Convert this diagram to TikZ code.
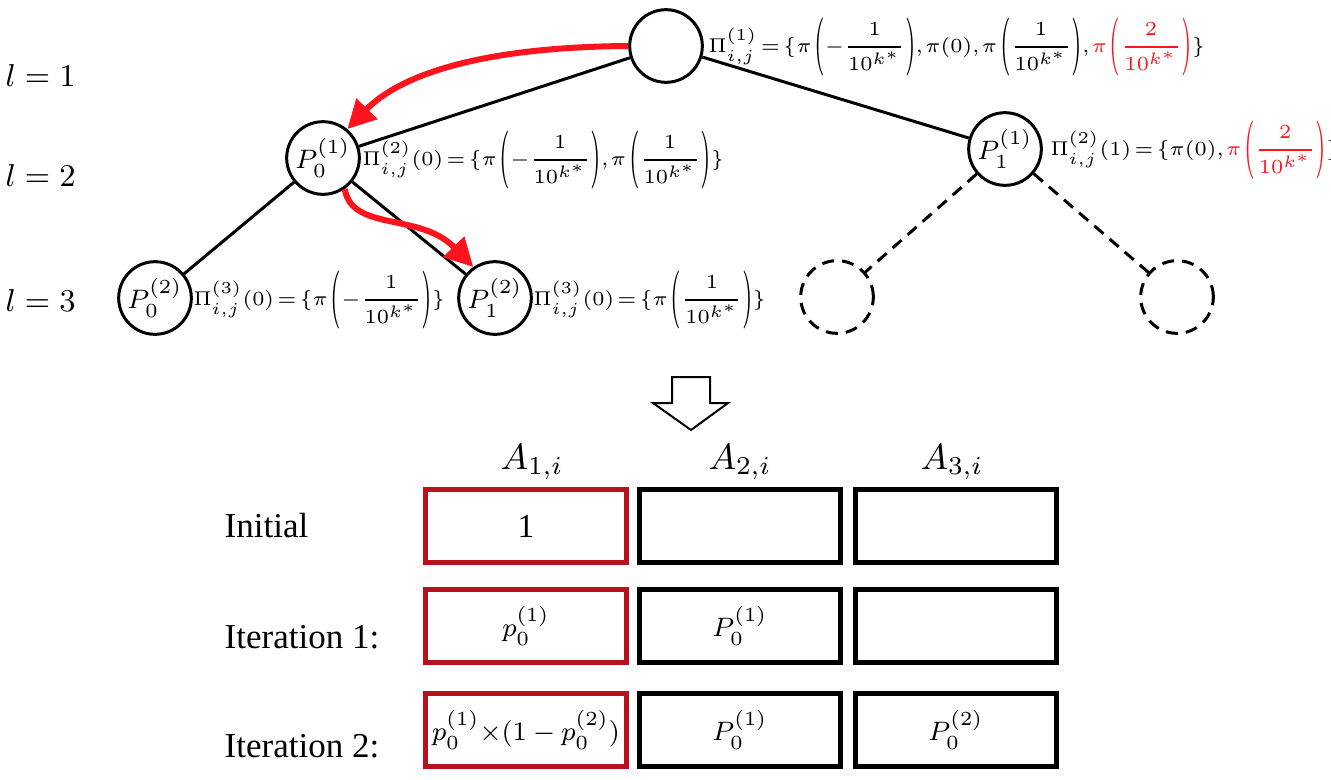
\RequirePackage{fix-cm}
\documentclass[tikz,border=0pt]{standalone}
\usepackage[no-math]{fontspec}
\setmainfont{Liberation Serif}
\usetikzlibrary{arrows.meta}
\definecolor{tred}{RGB}{255,20,30}
\definecolor{bred}{RGB}{185,18,28}
\newcommand{\fsz}[1]{\fontsize{#1}{#1}\selectfont}
\newcommand{\frk}[1]{{\displaystyle\frac{#1}{10^{k^*}}}}
\newcommand{\tallp}[1]{\mkern2mu\mathopen{\vcenter{\hbox{\scalebox{1.1}[2.9]{$($}}}}#1\mathclose{\vcenter{\hbox{\scalebox{1.1}[2.9]{$)$}}}}}
\newcommand{\tightmath}{\thickmuskip=2.5mu\medmuskip=1.5mu\thinmuskip=1.5mu}
\begin{document}
\begin{tikzpicture}[x=0.3pt,y=-0.3pt,
  tnode/.style={circle,draw,line width=0.9pt,minimum size=21.8pt,inner sep=0pt,font=\fsz{8}},
  dnode/.style={circle,draw,line width=0.9pt,minimum size=21.8pt,inner sep=0pt,dash pattern=on 3.6pt off 2.4pt},
  edge/.style={line width=0.9pt},
  dedge/.style={line width=0.9pt,dash pattern=on 3.6pt off 2.4pt},
  redarrow/.style={tred,line width=1.8pt,-{Triangle[length=8.5pt,width=8.5pt]}},
  tlab/.style={anchor=west,inner sep=0pt,font=\fsz{6.0}\tightmath},
  lev/.style={anchor=west,inner sep=0pt,font=\fsz{9.5}},
  cell/.style={draw,line width=1.5pt,minimum width=60.3pt,minimum height=22pt,inner sep=0pt,font=\fsz{8}},
  redcell/.style={cell,draw=bred},
  head/.style={font=\fsz{11}},
  rowlab/.style={anchor=west,inner sep=0pt,font=\fsz{10.5}}]
\useasboundingbox (0,0) rectangle (1331,779);

% level labels
\node[lev] (l1) at (5,75) {$l = 1$};
\node[lev] (l2) at (5,175) {$l = 2$};
\node[lev] (l3) at (5,300) {$l = 3$};

% tree nodes
\node[tnode] (root) at (666,46) {};
\node[tnode] (a) at (323,158) {$P_0^{(1)}$};
\node[tnode] (b) at (1005,149) {$P_1^{(1)}$};
\node[tnode] (c) at (155,298) {$P_0^{(2)}$};
\node[tnode] (d) at (495,298) {$P_1^{(2)}$};
\node[dnode] (e) at (837,297) {};
\node[dnode] (f) at (1177,297) {};

% edges
\draw[edge] (root) -- (a);
\draw[edge] (root) -- (b);
\draw[edge] (a) -- (c);
\draw[edge] (a) -- (d);
\draw[dedge] (b) -- (e);
\draw[dedge] (b) -- (f);

% red arrows
\draw[redarrow] (root.west) .. controls (480,47) and (400,75) .. (a.50);
\draw[redarrow] (a.-55) .. controls (352,232) and (420,212) .. (d.125);

% tree labels
\node[tlab] (la) at (708,47) {$\displaystyle \Pi^{(1)}_{i,j} = \{\pi\tallp{-\frk{1}},\pi(0),\pi\tallp{\frk{1}},{\color{tred}\pi\tallp{\frk{2}}}\}$};
\node[tlab] (lb) at (362,160) {$\displaystyle \Pi^{(2)}_{i,j}(0) = \{\pi\tallp{-\frk{1}},\pi\tallp{\frk{1}}\}$};
\node[tlab] (lc) at (1050,150) {$\displaystyle \Pi^{(2)}_{i,j}(1) = \{\pi(0),{\color{tred}\pi\tallp{\frk{2}}}\}$};
\node[tlab] (ld) at (193,300) {$\displaystyle \Pi^{(3)}_{i,j}(0) = \{\pi\tallp{-\frk{1}}\}$};
\node[tlab] (le) at (533,300) {$\displaystyle \Pi^{(3)}_{i,j}(0) = \{\pi\tallp{\frk{1}}\}$};

% hollow down arrow
\draw[line width=0.6pt,fill=white] (672,377) -- (710,377) -- (710,403) -- (728,403) -- (691,430) -- (653,403) -- (672,403) -- cycle;

% table headers
\node[head] (h1) at (532,462) {$A_{1,i}$};
\node[head] (h2) at (740,462) {$A_{2,i}$};
\node[head] (h3) at (952,462) {$A_{3,i}$};

% cells
\node[redcell] (c11) at (526,526) {\fsz{10}1};
\node[cell] (c12) at (740,526) {};
\node[cell] (c13) at (956,526) {};
\node[redcell] (c21) at (526,626) {$p_0^{(1)}$};
\node[cell] (c22) at (740,626) {$P_0^{(1)}$};
\node[cell] (c23) at (956,626) {};
\node[redcell] (c31) at (526,730) {$p_0^{(1)}{\times}(1-p_0^{(2)})$};
\node[cell] (c32) at (740,730) {$P_0^{(1)}$};
\node[cell] (c33) at (956,730) {$P_0^{(2)}$};

% row labels
\node[rowlab] (r1) at (224,526) {Initial};
\node[rowlab] (r2) at (224,637) {Iteration 1:};
\node[rowlab] (r3) at (224,746) {Iteration 2:};
\end{tikzpicture}
\end{document}
